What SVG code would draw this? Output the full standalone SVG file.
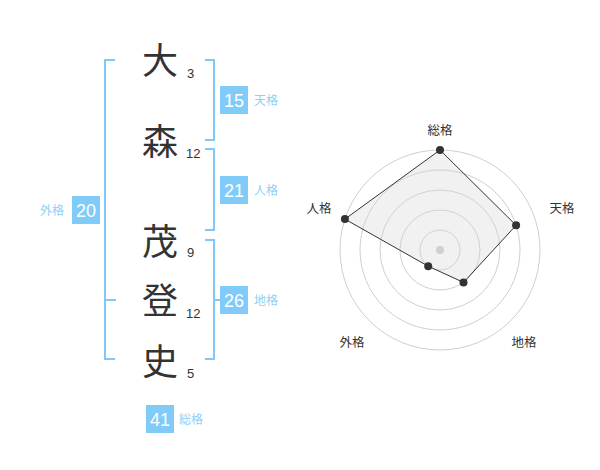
<svg xmlns="http://www.w3.org/2000/svg" width="600" height="470" viewBox="0 0 600 470">
<style>
.kanji{font-family:"Noto Sans CJK JP","Noto Sans",sans-serif;font-size:36px;fill:#333;text-anchor:middle}
.num{font-family:"Liberation Sans",Arial,sans-serif;font-size:13px;fill:#333}
.br{fill:none;stroke:#80c8f5;stroke-width:2}
.box{fill:#80cbf8}
.bt{font-family:"Liberation Sans",Arial,sans-serif;font-size:18px;fill:#fff;text-anchor:middle}
.lb{font-family:"Noto Sans CJK JP",sans-serif;font-size:12px;fill:#8fd0f5}
.ring{fill:none;stroke:#cfcfcf;stroke-width:1}
.rl{font-family:"Noto Sans CJK JP",sans-serif;font-size:12.5px;fill:#333;text-anchor:middle}
.pt{fill:#333}
</style>
<rect width="600" height="470" fill="#fff"/>
<g id="chars">
<g id="c1"><text class="kanji" x="160" y="74">大</text><text class="num" x="187" y="78">3</text></g>
<g id="c2"><text class="kanji" x="160" y="155">森</text><text class="num" x="186" y="158">12</text></g>
<g id="c3"><text class="kanji" x="160" y="255">茂</text><text class="num" x="187" y="257">9</text></g>
<g id="c4"><text class="kanji" x="160" y="314">登</text><text class="num" x="186" y="318">12</text></g>
<g id="c5"><text class="kanji" x="160" y="375">史</text><text class="num" x="187" y="378">5</text></g>
</g>
<g id="connectors">
<path class="br" d="M115,60H105V359H115M105,300H116"/>
<path class="br" d="M205,60H214V140H205"/>
<path class="br" d="M205,149H214V230H205"/>
<path class="br" d="M205,240H214V359H205M214,300H222"/>
</g>
<g id="tenkaku"><rect class="box" x="220" y="86" width="28" height="28"/><text class="bt" x="234" y="107">15</text><text class="lb" x="254" y="105">天格</text></g>
<g id="jinkaku"><rect class="box" x="220" y="176" width="28" height="28"/><text class="bt" x="234" y="197">21</text><text class="lb" x="254" y="195">人格</text></g>
<g id="chikaku"><rect class="box" x="220" y="286" width="28" height="28"/><text class="bt" x="234" y="307">26</text><text class="lb" x="254" y="305">地格</text></g>
<g id="gaikaku"><rect class="box" x="72" y="196" width="28" height="28"/><text class="bt" x="86" y="217">20</text><text class="lb" x="40" y="215">外格</text></g>
<g id="soukaku"><rect class="box" x="146" y="405" width="28" height="28"/><text class="bt" x="160" y="426">41</text><text class="lb" x="179" y="424">総格</text></g>
<g id="radar">
<circle class="ring" cx="440" cy="250" r="20"/>
<circle class="ring" cx="440" cy="250" r="40"/>
<circle class="ring" cx="440" cy="250" r="60"/>
<circle class="ring" cx="440" cy="250" r="80"/>
<circle class="ring" cx="440" cy="250" r="100"/>
<circle cx="440" cy="250" r="4" fill="#ccc"/>
<polygon points="440,150 516.1,225.3 463.5,282.4 428.2,266.2 344.9,219.1" fill="#d8d8d8" fill-opacity="0.35" stroke="#333" stroke-width="1"/>
<circle class="pt" cx="440" cy="150" r="4"/>
<circle class="pt" cx="516.1" cy="225.3" r="4"/>
<circle class="pt" cx="463.5" cy="282.4" r="4"/>
<circle class="pt" cx="428.2" cy="266.2" r="4"/>
<circle class="pt" cx="344.9" cy="219.1" r="4"/>
<text class="rl" x="440" y="135">総格</text>
<text class="rl" x="562" y="213">天格</text>
<text class="rl" x="524" y="347">地格</text>
<text class="rl" x="352" y="347">外格</text>
<text class="rl" x="319" y="213">人格</text>
</g>
</svg>
